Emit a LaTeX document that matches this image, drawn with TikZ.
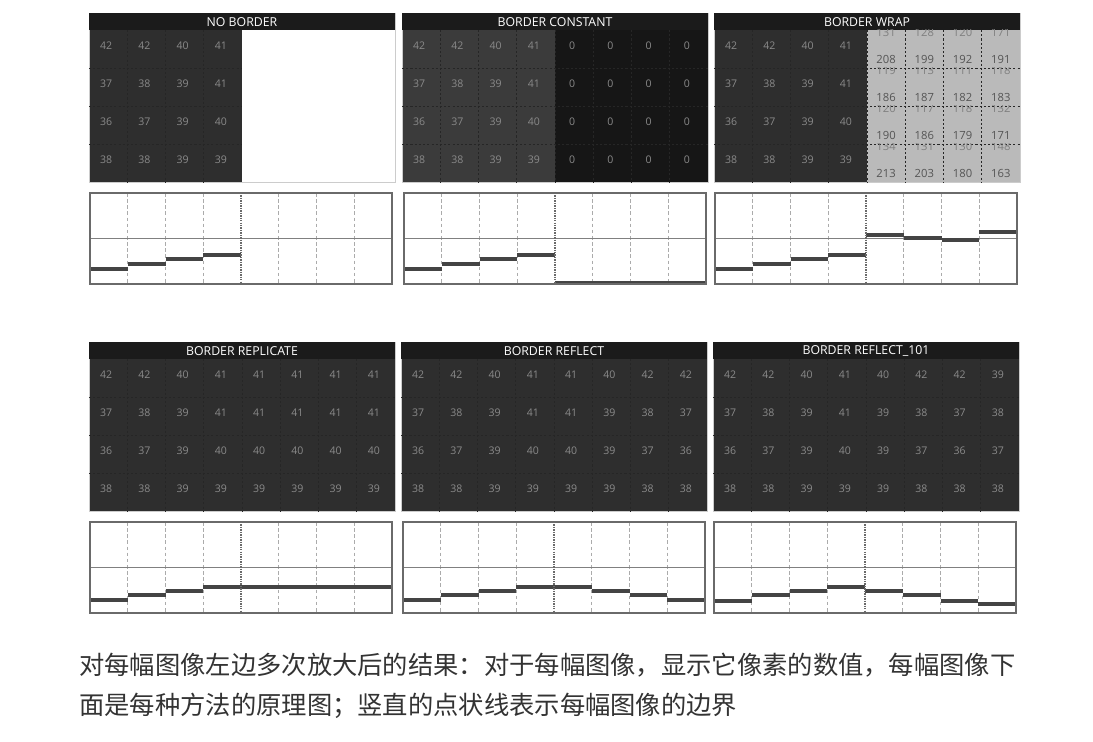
\documentclass[tikz,border=0pt]{standalone}
\usepackage{fontspec}
\usepackage{tikz}
\usetikzlibrary{calc}
\newfontfamily\panelfont{Open Sans}
\newfontfamily\capfont{Noto Sans CJK SC}
\definecolor{pixBar}{HTML}{1B1B1B}
\definecolor{pixDark}{HTML}{2E2E2E}
\definecolor{pixConstIn}{HTML}{3B3B3B}
\definecolor{pixConstOut}{HTML}{161616}
\definecolor{pixWrap}{HTML}{BABABA}
\definecolor{pixNum}{HTML}{8A8A8A}
\definecolor{pixNumLight}{HTML}{555555}
\definecolor{chartFrame}{HTML}{6A6A6A}
\definecolor{chartLevel}{HTML}{444444}
\definecolor{chartGrid}{HTML}{ABABAB}
\definecolor{capText}{HTML}{333333}
\tikzset{
  title bar/.style={fill=pixBar},
  title text/.style={text=white, inner sep=0pt,
    font=\panelfont\fontsize{7}{8}\selectfont},
  pix num/.style={text=pixNum, inner sep=0pt,
    font=\panelfont\fontsize{6}{7}\selectfont},
  wrap num/.style={text=pixNumLight, inner sep=0pt,
    font=\panelfont\fontsize{6.4}{7}\selectfont},
  wrap ghost/.style={wrap num, text=pixNumLight!75},
  cell grid/.style={draw=black!85, dash pattern=on 1.2pt off 1.2pt,
    line width=0.35pt},
  panel frame/.style={draw=black!20, line width=0.4pt},
  chart frame/.style={draw=chartFrame, line width=1.1pt},
  chart mid/.style={draw=chartFrame!85, line width=0.5pt},
  chart grid/.style={draw=chartGrid, dash pattern=on 2pt off 1.5pt,
    line width=0.4pt},
  chart border/.style={draw=chartFrame, dash pattern=on 0.8pt off 0.6pt,
    line width=1.5pt},
  level line/.style={draw=chartLevel, line width=1.8pt},
  caption text/.style={text=capText, inner sep=0pt, anchor=west,
    font=\capfont\fontsize{14.4}{17}\selectfont}
}

\begin{document}
\begin{tikzpicture}[x=0.02cm, y=-0.02cm]
  \useasboundingbox[fill=white] (0,0) rectangle (1093,742);

  % image panels: cell areas
  \fill[pixDark] (89,30) rectangle ++(153,152);
  \fill[pixConstIn] (402,30) rectangle ++(153,152);
  \fill[pixConstOut] (555,30) rectangle ++(153,152);
  \fill[pixDark] (714,30) rectangle ++(153,152);
  \fill[pixWrap] (867,30) rectangle ++(153,152);
  \fill[pixDark] (89,359) rectangle ++(306,152);
  \fill[pixDark] (401,359) rectangle ++(306,152);
  \fill[pixDark] (713,359) rectangle ++(306,152);

  % title bars, frames and cell grid
  \foreach \name/\px/\py/\gw/\cols/\ttl in {nob/89/13/153/{1,2,3}/NO BORDER,
      con/402/13/306/{1,...,7}/BORDER CONSTANT,
      wrap/714/13/306/{1,...,7}/BORDER WRAP,
      rep/89/342/306/{1,...,7}/BORDER REPLICATE,
      ref/401/342/306/{1,...,7}/BORDER REFLECT,
      rfl/713/342/306/{1,...,7}/BORDER REFLECT\_101} {
    \draw[panel frame] (\px,\py) rectangle ++(306,169);
    \fill[title bar] (\px,\py) rectangle ++(306,17);
    \node[title text] (\name-title) at ({\px+153},{\py+9}) {\ttl};
    \foreach \k in {1,2,3}
      \draw[cell grid] (\px,{\py+17+\k*38}) -- ++(\gw,0);
    \foreach \k in \cols
      \draw[cell grid] ({\px+\k*38.25},{\py+17}) -- ++(0,152);
  }

  % pixel values
  \foreach \name/\px/\py/\rows in {
      nob/89/30/{{42,42,40,41},{37,38,39,41},{36,37,39,40},{38,38,39,39}},
      con/402/30/{{42,42,40,41,0,0,0,0},{37,38,39,41,0,0,0,0},{36,37,39,40,0,0,0,0},{38,38,39,39,0,0,0,0}},
      wrap/714/30/{{42,42,40,41},{37,38,39,41},{36,37,39,40},{38,38,39,39}},
      rep/89/359/{{42,42,40,41,41,41,41,41},{37,38,39,41,41,41,41,41},{36,37,39,40,40,40,40,40},{38,38,39,39,39,39,39,39}},
      ref/401/359/{{42,42,40,41,41,40,42,42},{37,38,39,41,41,39,38,37},{36,37,39,40,40,39,37,36},{38,38,39,39,39,39,38,38}},
      rfl/713/359/{{42,42,40,41,40,42,42,39},{37,38,39,41,39,38,37,38},{36,37,39,40,39,37,36,37},{38,38,39,39,39,38,38,38}}} {
    \foreach \row [count=\r] in \rows {
      \foreach \v [count=\c] in \row
        \node[pix num] (\name-\r-\c) at ({\px+(\c-0.5)*38.25-2},{\py+(\r-1)*38+16}) {\v};
    }
  }

  % wrapped cells: value of the cell below cut at the top
  \foreach \row [count=\r] in {{131/208,128/199,120/192,171/191},
      {119/186,113/187,111/182,118/183},{120/190,117/186,118/179,132/171},
      {134/213,131/203,130/180,148/163}} {
    \foreach \a/\b [count=\c] in \row {
      \begin{scope}
        \clip ({867+(\c-1)*38.25},{30+(\r-1)*38}) rectangle ++(38.25,38);
        \node[wrap ghost] (wrap-g\r-\c) at ({867+(\c-0.5)*38.25},{30+(\r-1)*38+2}) {\a};
      \end{scope}
      \node[wrap num] (wrap-\r-\c) at ({867+(\c-0.5)*38.25},{30+(\r-1)*38+29}) {\b};
    }
  }

  % border charts
  \foreach \name/\cx/\cy/\lv in {nob/90/193/{15,20,25,29},
      con/404/193/{15,20,25,29,1,1,1,1},
      wrap/715/193/{15,20,25,29,49,46,44,52},
      rep/90/522/{13,18,22,26,26,26,26,26},
      ref/403/522/{13,18,22,26,26,22,18,13},
      rfl/714/522/{12,18,22,26,22,18,12,9}} {
    \foreach \k in {1,2,3,5,6,7}
      \draw[chart grid] ({\cx+\k*37.75},\cy) -- ++(0,91);
    \draw[chart mid] (\cx,{\cy+45.5}) -- ++(302,0);
    \foreach \h [count=\k] in \lv
      \draw[level line] ({\cx+(\k-1)*37.75},{\cy+91-\h}) -- ++(37.75,0);
    \draw[chart border] ({\cx+4*37.75},\cy) -- ++(0,91);
    \draw[chart frame] (\cx,\cy) rectangle ++(302,91);
  }

  \node[caption text] (cap1) at (79,665)
    {对每幅图像左边多次放大后的结果：对于每幅图像，显示它像素的数值，每幅图像下};
  \node[caption text] (cap2) at (79,706)
    {面是每种方法的原理图；竖直的点状线表示每幅图像的边界};
\end{tikzpicture}
\end{document}
